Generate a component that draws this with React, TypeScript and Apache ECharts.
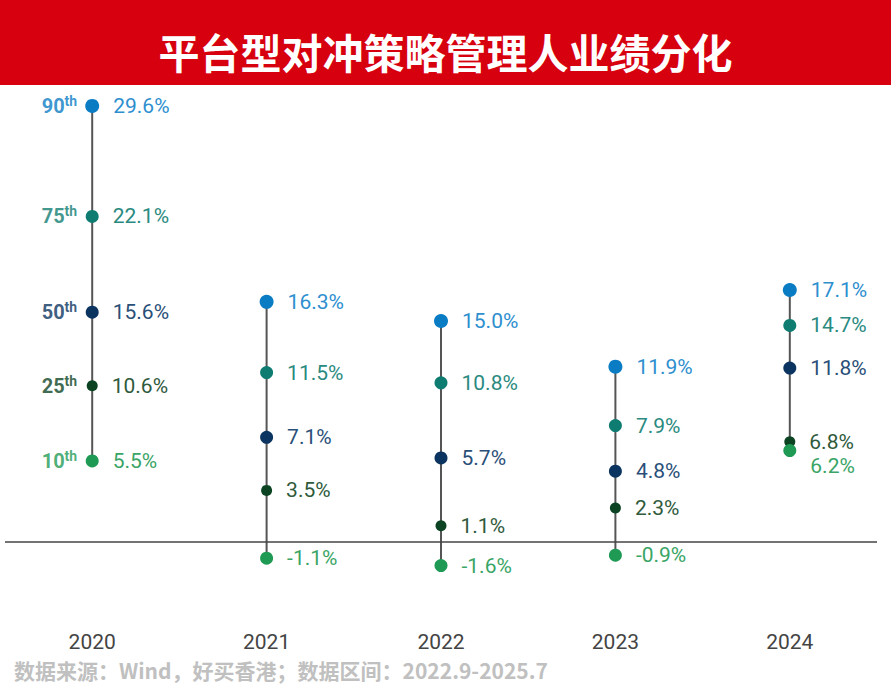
import { useEffect, useRef } from 'react'
import * as echarts from 'echarts'

const YEARS = ['2020', '2021', '2022', '2023', '2024']
const PERCENTILES = ['90', '75', '50', '25', '10']

// 各分位数收益 (%)
const P90 = [29.6, 16.3, 15.0, 11.9, 17.1]
const P75 = [22.1, 11.5, 10.8, 7.9, 14.7]
const P50 = [15.6, 7.1, 5.7, 4.8, 11.8]
const P25 = [10.6, 3.5, 1.1, 2.3, 6.8]
const P10 = [5.5, -1.1, -1.6, -0.9, 6.2]

const VALUES = [P90, P75, P50, P25, P10]
const DOT_COLORS = ['#0a7cc4', '#0f7c72', '#0b3460', '#0c4423', '#1f9a55']
const TEXT_COLORS = ['#2e8fcf', '#2a8a80', '#2a4f78', '#2f5a3c', '#3aa566']
const DOT_SIZES = [14, 13, 13, 11, 13]

const TITLE = '平台型对冲策略管理人业绩分化'
const SOURCE = '数据来源：Wind，好买香港；数据区间：2022.9-2025.7'

const FONT = "Roboto, 'Noto Sans CJK SC', sans-serif"

export default function App() {
  const chartRef = useRef<HTMLDivElement>(null)

  useEffect(() => {
    if (!chartRef.current) return
    const chart = echarts.init(chartRef.current, null, { renderer: 'svg' })

    const ranges = YEARS.map((_, i) => {
      const col = VALUES.map((v) => v[i])
      return [i, Math.min(...col), Math.max(...col)]
    })

    const dotSeries = VALUES.map((vals, k) => ({
      type: 'scatter',
      name: PERCENTILES[k],
      symbolSize: DOT_SIZES[k],
      itemStyle: { color: DOT_COLORS[k], opacity: 1 },
      z: 3 + k,
      label: {
        show: true,
        position: 'right',
        distance: 14,
        fontSize: 21,
        fontFamily: FONT,
        color: TEXT_COLORS[k],
        formatter: (p: any) => `${(p.value[1] as number).toFixed(1)}%`,
      },
      data: vals.map((v, i) => {
        // 2024 的 10th 与 25th 太近，标签下移
        if (k === 4 && i === 4) {
          return { value: [i, v], label: { offset: [0, 15] } }
        }
        return [i, v]
      }),
      ...(k === 0
        ? {
            markLine: {
              silent: true,
              symbol: 'none',
              label: { show: false },
              lineStyle: { color: '#444', width: 1.5, type: 'solid' },
              data: [{ yAxis: 0 }],
            },
          }
        : {}),
    }))

    const option: any = {
      animation: false,
      backgroundColor: '#fff',
      title: {
        text: TITLE,
        left: 'center',
        top: 25,
        textStyle: {
          color: '#fff',
          fontSize: 41,
          fontWeight: 'bold',
          fontFamily: "'Noto Sans CJK SC', sans-serif",
        },
      },
      graphic: [
        {
          type: 'rect',
          left: 0,
          top: 0,
          z: -10,
          shape: { width: 891, height: 85 },
          style: { fill: '#d7000f' },
        },
        {
          type: 'text',
          left: 14,
          top: 659,
          style: {
            text: SOURCE,
            fill: '#c0c0c0',
            fontSize: 21,
            fontWeight: 'bold',
            fontFamily: "'Noto Sans CJK SC', sans-serif",
          },
        },
      ],
      grid: { left: 5, right: 14, top: 100, bottom: 74.4 },
      xAxis: {
        type: 'category',
        data: YEARS,
        axisLine: { show: false },
        axisTick: { show: false },
        axisLabel: { fontSize: 21, color: '#444', fontFamily: FONT, margin: 16 },
        splitLine: { show: false },
      },
      yAxis: {
        type: 'value',
        min: -5,
        max: 30,
        show: false,
      },
      series: [
        {
          type: 'custom',
          z: 2,
          silent: true,
          renderItem: (_params: any, api: any) => {
            const lo = api.coord([api.value(0), api.value(1)])
            const hi = api.coord([api.value(0), api.value(2)])
            return {
              type: 'line',
              shape: { x1: lo[0], y1: lo[1], x2: hi[0], y2: hi[1] },
              style: { stroke: '#555', lineWidth: 2 },
            }
          },
          data: ranges,
        },
        ...dotSeries,
        {
          type: 'scatter',
          symbolSize: 0,
          silent: true,
          z: 10,
          label: {
            show: true,
            position: 'left',
            distance: 15,
            formatter: (p: any) => `{n|${PERCENTILES[p.dataIndex]}}{s|th}`,
          },
          data: PERCENTILES.map((_, k) => ({
            value: [0, VALUES[k][0]],
            label: {
              rich: {
                n: { fontSize: 20, fontWeight: 'bold', color: DOT_COLORS[k], fontFamily: FONT, lineHeight: 24 },
                s: { fontSize: 14, fontWeight: 'bold', color: DOT_COLORS[k], fontFamily: FONT, verticalAlign: 'top', lineHeight: 24 },
              },
            },
          })),
        },
      ],
    }

    chart.setOption(option)
    return () => chart.dispose()
  }, [])

  return (
    <div
      ref={chartRef}
      style={{ position: 'fixed', left: 0, top: 0, width: 891, height: 690 }}
    />
  )
}
